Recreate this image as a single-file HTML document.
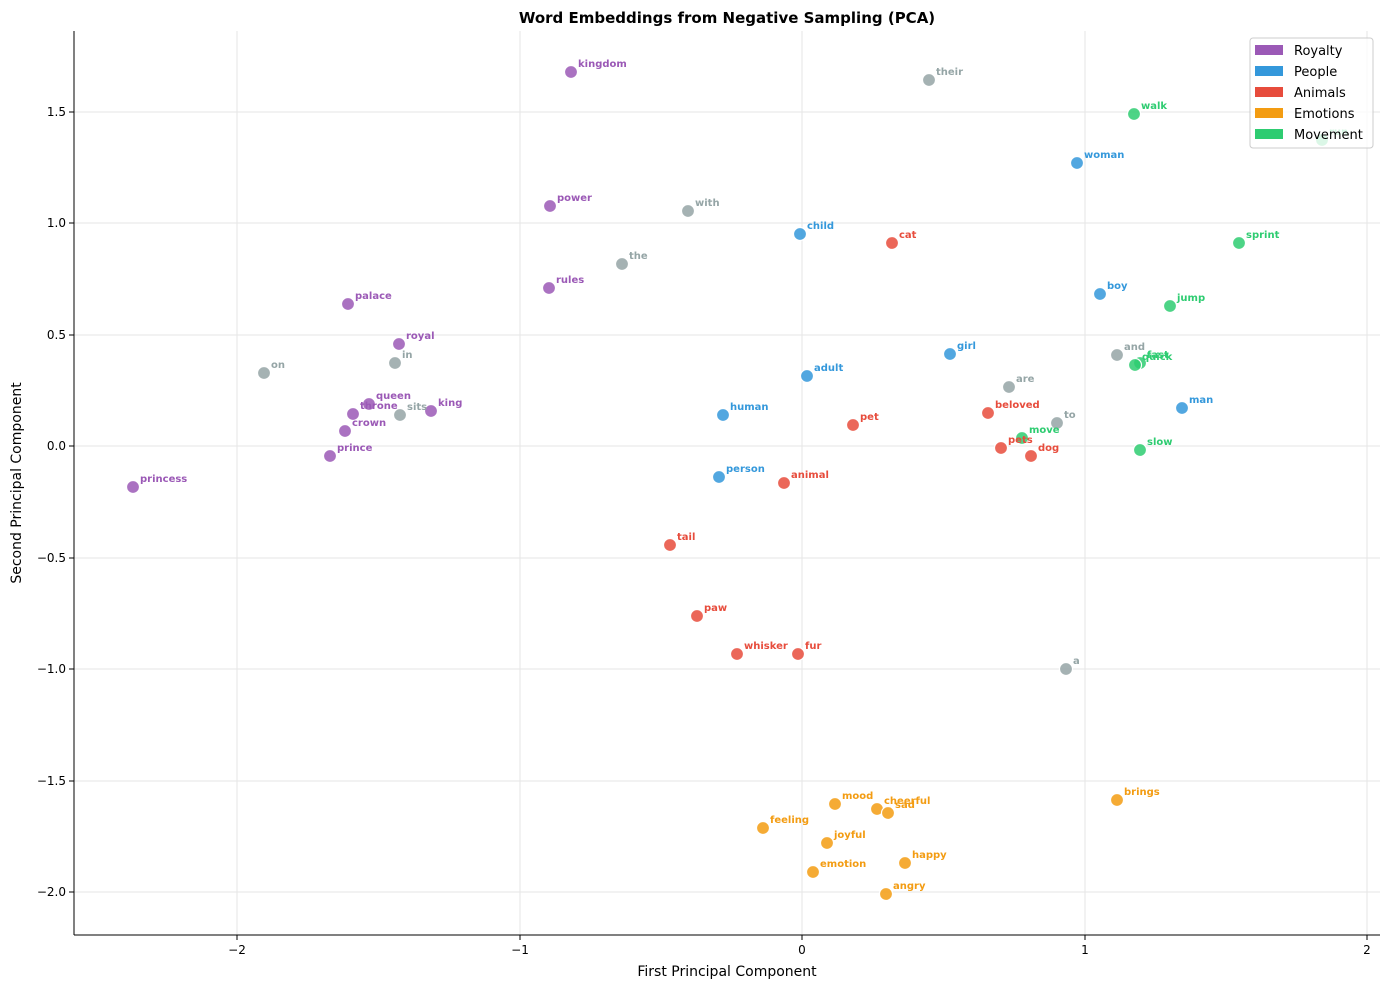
<!DOCTYPE html>
<html><head><meta charset="utf-8"><style>body{margin:0;background:#fff}svg{display:block;font-family:"DejaVu Sans",sans-serif}</style></head>
<body>
<svg width="1389" height="989" xmlns="http://www.w3.org/2000/svg">
<text x="727" y="23" text-anchor="middle" font-size="15" font-weight="bold">Word Embeddings from Negative Sampling (PCA)</text>
<g stroke="#e6e6e6" stroke-width="1">
<line x1="237" y1="31" x2="237" y2="935"/><line x1="520" y1="31" x2="520" y2="935"/><line x1="802" y1="31" x2="802" y2="935"/><line x1="1085" y1="31" x2="1085" y2="935"/><line x1="1367" y1="31" x2="1367" y2="935"/>
<line x1="74" y1="112" x2="1380" y2="112"/><line x1="74" y1="223" x2="1380" y2="223"/><line x1="74" y1="335" x2="1380" y2="335"/><line x1="74" y1="446" x2="1380" y2="446"/><line x1="74" y1="558" x2="1380" y2="558"/><line x1="74" y1="669" x2="1380" y2="669"/><line x1="74" y1="781" x2="1380" y2="781"/><line x1="74" y1="892" x2="1380" y2="892"/>
</g>
<g stroke="#000" stroke-width="1"><line x1="74" y1="31" x2="74" y2="935"/><line x1="74" y1="935" x2="1380" y2="935"/>
<line x1="237" y1="935" x2="237" y2="940"/><line x1="520" y1="935" x2="520" y2="940"/><line x1="802" y1="935" x2="802" y2="940"/><line x1="1085" y1="935" x2="1085" y2="940"/><line x1="1367" y1="935" x2="1367" y2="940"/>
<line x1="69" y1="112" x2="74" y2="112"/><line x1="69" y1="223" x2="74" y2="223"/><line x1="69" y1="335" x2="74" y2="335"/><line x1="69" y1="446" x2="74" y2="446"/><line x1="69" y1="558" x2="74" y2="558"/><line x1="69" y1="669" x2="74" y2="669"/><line x1="69" y1="781" x2="74" y2="781"/><line x1="69" y1="892" x2="74" y2="892"/></g>
<g font-size="12" text-anchor="middle">
<text x="237" y="954">−2</text><text x="520" y="954">−1</text><text x="802" y="954">0</text><text x="1085" y="954">1</text><text x="1367" y="954">2</text></g>
<g font-size="12" text-anchor="end">
<text x="66" y="116">1.5</text><text x="66" y="227">1.0</text><text x="66" y="339">0.5</text><text x="66" y="450">0.0</text><text x="66" y="562">−0.5</text><text x="66" y="673">−1.0</text><text x="66" y="785">−1.5</text><text x="66" y="896">−2.0</text></g>
<text x="727" y="976" text-anchor="middle" font-size="14">First Principal Component</text>
<text transform="translate(21,483) rotate(-90)" text-anchor="middle" font-size="14">Second Principal Component</text>

<g stroke="#fff" stroke-width="1.2" fill-opacity="0.85">
<g fill="#9b59b6">
<circle cx="571" cy="72" r="6.5"/><circle cx="550" cy="206" r="6.5"/><circle cx="549" cy="288" r="6.5"/><circle cx="348" cy="304" r="6.5"/><circle cx="399" cy="344" r="6.5"/><circle cx="369" cy="404" r="6.5"/><circle cx="353" cy="414" r="6.5"/><circle cx="431" cy="411" r="6.5"/><circle cx="345" cy="431" r="6.5"/><circle cx="330" cy="456" r="6.5"/><circle cx="133" cy="487" r="6.5"/></g>
<g fill="#95a5a6">
<circle cx="929" cy="80" r="6.5"/><circle cx="688" cy="211" r="6.5"/><circle cx="622" cy="264" r="6.5"/><circle cx="264" cy="373" r="6.5"/><circle cx="395" cy="363" r="6.5"/><circle cx="400" cy="415" r="6.5"/><circle cx="1117" cy="355" r="6.5"/><circle cx="1009" cy="387" r="6.5"/><circle cx="1057" cy="423" r="6.5"/><circle cx="1066" cy="669" r="6.5"/></g>
<g fill="#3498db">
<circle cx="1077" cy="163" r="6.5"/><circle cx="800" cy="234" r="6.5"/><circle cx="1100" cy="294" r="6.5"/><circle cx="950" cy="354" r="6.5"/><circle cx="807" cy="376" r="6.5"/><circle cx="723" cy="415" r="6.5"/><circle cx="1182" cy="408" r="6.5"/><circle cx="719" cy="477" r="6.5"/></g>
<g fill="#e74c3c">
<circle cx="892" cy="243" r="6.5"/><circle cx="853" cy="425" r="6.5"/><circle cx="988" cy="413" r="6.5"/><circle cx="1001" cy="448" r="6.5"/><circle cx="1031" cy="456" r="6.5"/><circle cx="784" cy="483" r="6.5"/><circle cx="670" cy="545" r="6.5"/><circle cx="697" cy="616" r="6.5"/><circle cx="737" cy="654" r="6.5"/><circle cx="798" cy="654" r="6.5"/></g>
<g fill="#2ecc71">
<circle cx="1134" cy="114" r="6.5"/><circle cx="1239" cy="243" r="6.5"/><circle cx="1170" cy="306" r="6.5"/><circle cx="1140" cy="363" r="6.5"/><circle cx="1135" cy="365" r="6.5"/><circle cx="1022" cy="438" r="6.5"/><circle cx="1140" cy="450" r="6.5"/><circle cx="1322" cy="140" r="6.5"/></g>
<g fill="#f39c12">
<circle cx="1117" cy="800" r="6.5"/><circle cx="835" cy="804" r="6.5"/><circle cx="877" cy="809" r="6.5"/><circle cx="888" cy="813" r="6.5"/><circle cx="763" cy="828" r="6.5"/><circle cx="827" cy="843" r="6.5"/><circle cx="905" cy="863" r="6.5"/><circle cx="813" cy="872" r="6.5"/><circle cx="886" cy="894" r="6.5"/></g>
</g>

<g font-size="10" font-weight="bold">
<g fill="#9b59b6">
<text x="578" y="67">kingdom</text><text x="557" y="201">power</text><text x="556" y="283">rules</text><text x="355" y="299">palace</text><text x="406" y="339">royal</text><text x="376" y="399">queen</text><text x="360" y="409">throne</text><text x="438" y="406">king</text><text x="352" y="426">crown</text><text x="337" y="451">prince</text><text x="140" y="482">princess</text></g>
<g fill="#95a5a6">
<text x="936" y="75">their</text><text x="695" y="206">with</text><text x="629" y="259">the</text><text x="271" y="368">on</text><text x="402" y="358">in</text><text x="407" y="410">sits</text><text x="1124" y="350">and</text><text x="1016" y="382">are</text><text x="1064" y="418">to</text><text x="1073" y="664">a</text></g>
<g fill="#3498db">
<text x="1084" y="158">woman</text><text x="807" y="229">child</text><text x="1107" y="289">boy</text><text x="957" y="349">girl</text><text x="814" y="371">adult</text><text x="730" y="410">human</text><text x="1189" y="403">man</text><text x="726" y="472">person</text></g>
<g fill="#e74c3c">
<text x="899" y="238">cat</text><text x="860" y="420">pet</text><text x="995" y="408">beloved</text><text x="1008" y="443">pets</text><text x="1038" y="451">dog</text><text x="791" y="478">animal</text><text x="677" y="540">tail</text><text x="704" y="611">paw</text><text x="744" y="649">whisker</text><text x="805" y="649">fur</text></g>
<g fill="#2ecc71">
<text x="1141" y="109">walk</text><text x="1246" y="238">sprint</text><text x="1177" y="301">jump</text><text x="1147" y="358">fast</text><text x="1142" y="360">quick</text><text x="1029" y="433">move</text><text x="1147" y="445">slow</text><text x="1329" y="135">run</text></g>
<g fill="#f39c12">
<text x="1124" y="795">brings</text><text x="842" y="799">mood</text><text x="884" y="804">cheerful</text><text x="895" y="808">sad</text><text x="770" y="823">feeling</text><text x="834" y="838">joyful</text><text x="912" y="858">happy</text><text x="820" y="867">emotion</text><text x="893" y="889">angry</text></g>
</g>

<g>
<rect x="1250" y="38" width="123" height="110" rx="3" fill="#fff" fill-opacity="0.8" stroke="#ccc"/>
<rect x="1255" y="45" width="28" height="10" fill="#9b59b6"/><text x="1294" y="55" font-size="13">Royalty</text>
<rect x="1255" y="66" width="28" height="10" fill="#3498db"/><text x="1294" y="76" font-size="13">People</text>
<rect x="1255" y="87" width="28" height="10" fill="#e74c3c"/><text x="1294" y="97" font-size="13">Animals</text>
<rect x="1255" y="108" width="28" height="10" fill="#f39c12"/><text x="1294" y="118" font-size="13">Emotions</text>
<rect x="1255" y="129" width="28" height="10" fill="#2ecc71"/><text x="1294" y="139" font-size="13">Movement</text>
</g>
</svg>
</body></html>
